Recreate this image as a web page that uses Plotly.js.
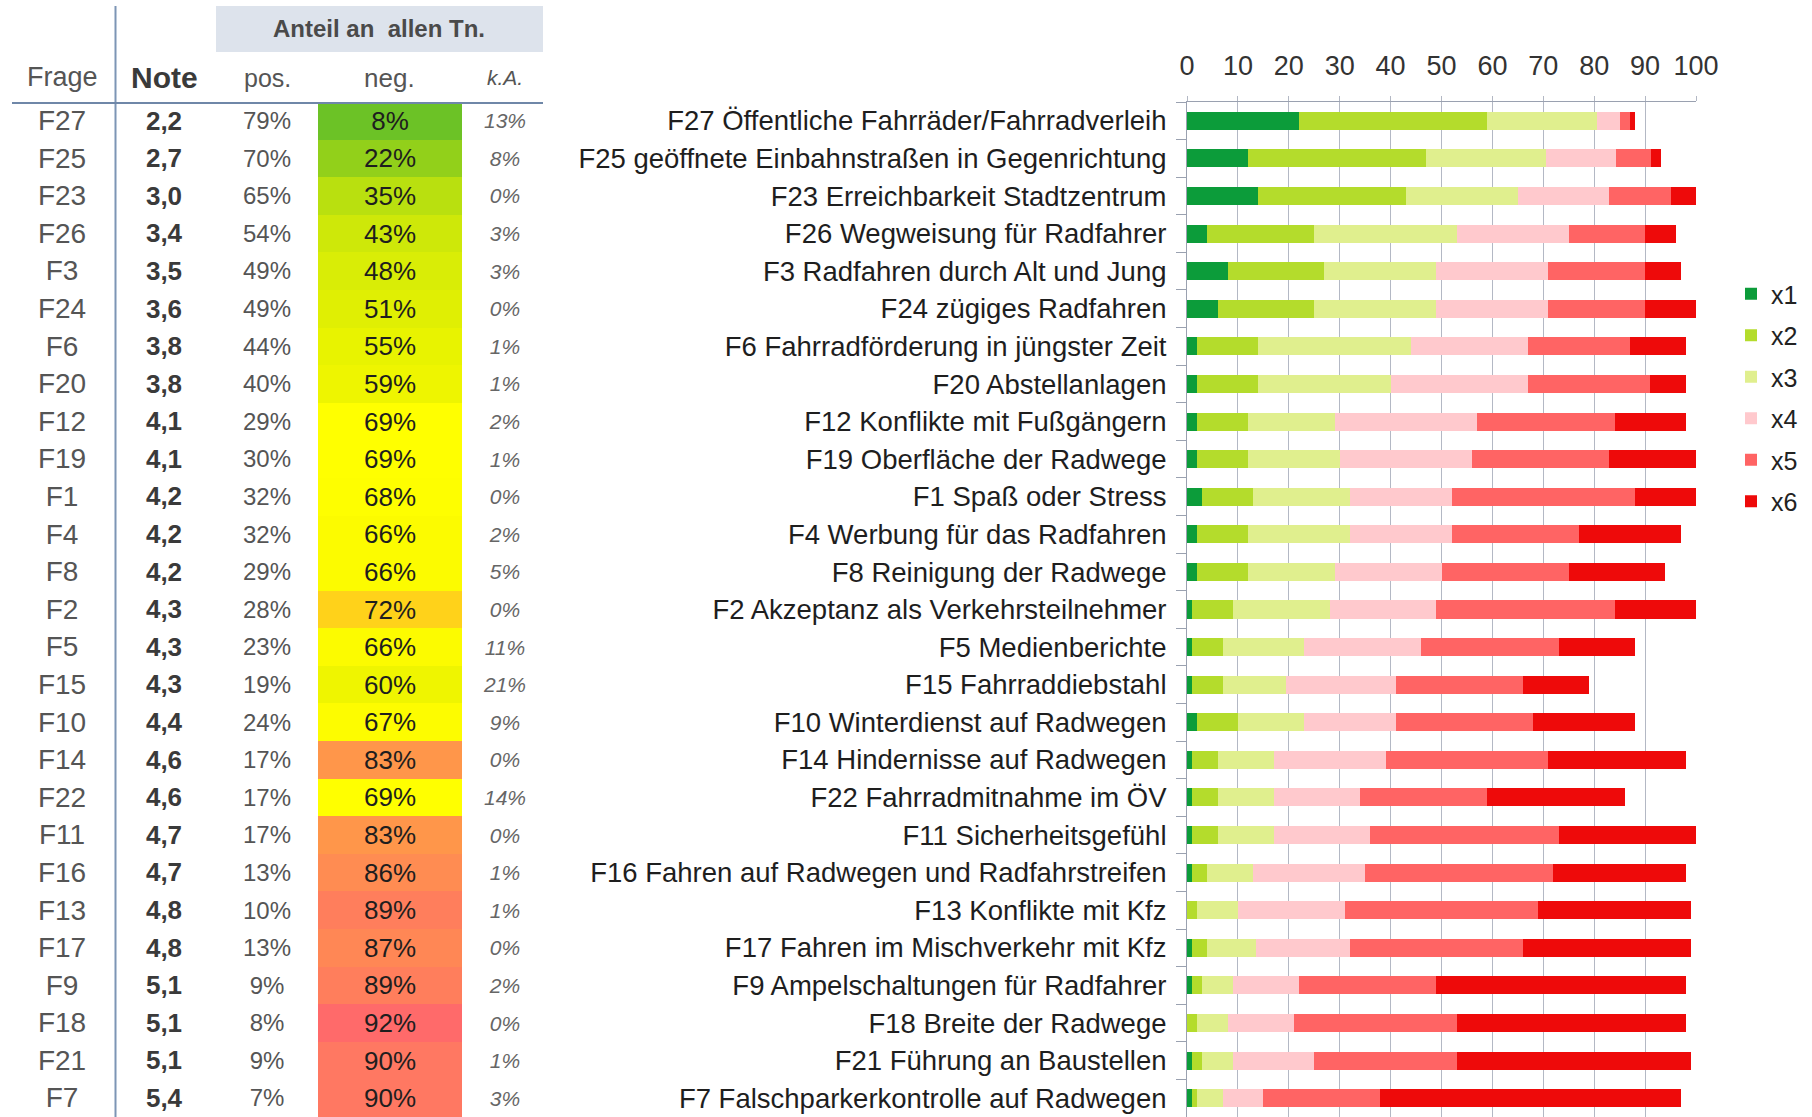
<!DOCTYPE html>
<html>
<head>
<meta charset="utf-8">
<script src="https://cdn.plot.ly/plotly-3.0.1.min.js"></script>
<style>html,body{margin:0;padding:0;background:#fff;}#chart{width:1812px;height:1117px;}</style>
</head>
<body>
<div id="chart"></div>
<script>
// ---- data ----
const codes = ['F27','F25','F23','F26','F3','F24','F6','F20','F12','F19','F1','F4','F8','F2','F5','F15','F10','F14','F22','F11','F16','F13','F17','F9','F18','F21','F7'];
const names = ['Öffentliche Fahrräder/Fahrradverleih','geöffnete Einbahnstraßen in Gegenrichtung','Erreichbarkeit Stadtzentrum','Wegweisung für Radfahrer','Radfahren durch Alt und Jung','zügiges Radfahren','Fahrradförderung in jüngster Zeit','Abstellanlagen','Konflikte mit Fußgängern','Oberfläche der Radwege','Spaß oder Stress','Werbung für das Radfahren','Reinigung der Radwege','Akzeptanz als Verkehrsteilnehmer','Medienberichte','Fahrraddiebstahl','Winterdienst auf Radwegen','Hindernisse auf Radwegen','Fahrradmitnahme im ÖV','Sicherheitsgefühl','Fahren auf Radwegen und Radfahrstreifen','Konflikte mit Kfz','Fahren im Mischverkehr mit Kfz','Ampelschaltungen für Radfahrer','Breite der Radwege','Führung an Baustellen','Falschparkerkontrolle auf Radwegen'];
const note = [2.2,2.7,3.0,3.4,3.5,3.6,3.8,3.8,4.1,4.1,4.2,4.2,4.2,4.3,4.3,4.3,4.4,4.6,4.6,4.7,4.7,4.8,4.8,5.1,5.1,5.1,5.4];
const pos = [79,70,65,54,49,49,44,40,29,30,32,32,29,28,23,19,24,17,17,17,13,10,13,9,8,9,7];
const neg = [8,22,35,43,48,51,55,59,69,69,68,66,66,72,66,60,67,83,69,83,86,89,87,89,92,90,90];
const ka = [13,8,0,3,3,0,1,1,2,1,0,2,5,0,11,21,9,0,14,0,1,1,0,2,0,1,3];

const seriesNames = ['x1','x2','x3','x4','x5','x6'];
const x1 = [22,12,14,4,8,6,2,2,2,2,3,2,2,1,1,1,2,1,1,1,1,0,1,1,0,1,1];
const x2 = [37,35,29,21,19,19,12,12,10,10,10,10,10,8,6,6,8,5,5,5,3,2,3,2,2,2,1];
const x3 = [21.5,23.5,22,28,22,24,30,26,17,18,19,20,17,19,16,12.5,13,11,11,11,9,8,9.5,6,6,6,5];
const x4 = [4.5,13.7,18,22,22,22,23,27,28,26,20,20,21,21,23,21.5,18,22,17,19,22,21,18.5,13,13,16,8];
const x5 = [2,7,12,15,19,19,20,24,27,27,36,25,25,35,27,25,27,32,25,37,37,38,34,27,32,28,23];
const x6 = [1,2,5,6,7,10,11,7,14,17,12,20,19,16,15,13,20,27,27,27,26,30,33,49,45,46,59];
const xTicks = [0,10,20,30,40,50,60,70,80,90,100];

// ---- styling ----
const FONT = '"Liberation Sans", Arial, sans-serif';
const seriesColors = ['#0c9c3a','#b4dc2c','#e0ef8e','#ffc9cd','#ff6464','#ee0a0a'];
const W = 1812, H = 1117;
const px = v => v / W;              // horizontal pixel -> paper
const py = v => 1 - v / H;          // vertical pixel -> paper
const COL = {frage: 62, note: 164, pos: 267, neg: 389, ka: 505};
const yDomain = [0, py(102)];
const textShift = 0.06;             // nudge table text slightly downward

const labels = codes.map((c, i) => c + ' ' + names[i]);
const series = [x1, x2, x3, x4, x5, x6];

const traces = series.map((vals, k) => ({
  type: 'bar', orientation: 'h', name: seriesNames[k],
  x: vals, y: labels, xaxis: 'x', yaxis: 'y',
  marker: {color: seriesColors[k], line: {width: 0}},
  legendgroup: seriesNames[k], hoverinfo: 'x+name'
}));

// neg column heat cells
traces.push({
  type: 'heatmap', x: ['neg.'], y: codes, z: neg.map(v => [v]),
  xaxis: 'x3', yaxis: 'y2', zmin: 0, zmax: 100, showscale: false,
  colorscale: [[0,'#4fb82c'],[0.08,'#6cc226'],[0.22,'#92d01a'],[0.35,'#b9e00f'],[0.45,'#d3ea08'],[0.55,'#e8f300'],[0.6,'#eff500'],[0.66,'#fcfb00'],[0.69,'#ffff00'],[0.72,'#ffd21a'],[0.8,'#ffa040'],[0.83,'#ff964a'],[0.86,'#ff8c52'],[0.89,'#ff7e5c'],[0.9,'#ff7862'],[0.92,'#ff6a6a'],[1,'#ff5555']],
  texttemplate: '%{z}%', textfont: {family: FONT, size: 26, color: '#1e1e1e'},
  xgap: 0, ygap: 0, hoverinfo: 'skip'
});

function textCol(xpos, txt, size, color) {
  return {
    type: 'scatter', mode: 'text', x: codes.map(() => xpos), y: codes,
    text: txt, textposition: 'middle center', xaxis: 'x2', yaxis: 'y3',
    textfont: {family: FONT, size: size, color: color},
    showlegend: false, hoverinfo: 'skip', cliponaxis: false
  };
}
traces.push(textCol(COL.frage, codes, 28, '#555555'));
traces.push(textCol(COL.note, note.map(v => '<b>' + v.toFixed(1).replace('.', ',') + '</b>'), 26, '#3a3a3a'));
traces.push(textCol(COL.pos, pos.map(v => v + '%'), 24, '#555555'));
traces.push(textCol(COL.ka, ka.map(v => '<i>' + v + '%</i>'), 21, '#666666'));

function hdr(text, x, y, size, color) {
  return {text: text, xref: 'paper', yref: 'paper', x: px(x), y: py(y), xanchor: 'center', yanchor: 'middle',
          showarrow: false, font: {family: FONT, size: size, color: color}};
}

const gridCol = '#b3b8c4';
const layout = {
  width: W, height: H, margin: {l: 0, r: 0, t: 0, b: 0},
  paper_bgcolor: '#ffffff', plot_bgcolor: 'rgba(0,0,0,0)',
  font: {family: FONT, size: 26, color: '#222'},
  barmode: 'stack', bargap: 0.52, showlegend: true,
  xaxis: {
    domain: [px(1187), px(1696)], range: [0, 100], side: 'top', anchor: 'y',
    tickvals: xTicks, ticktext: xTicks.map(String), showgrid: true, gridcolor: gridCol, gridwidth: 1,
    showline: true, linecolor: '#9aa1b0', linewidth: 1, ticks: 'outside', ticklen: 5, tickcolor: gridCol,
    zeroline: false, tickfont: {family: FONT, size: 27, color: '#333'}, ticklabelstandoff: 10, fixedrange: true
  },
  yaxis: {
    domain: yDomain, type: 'category', categoryorder: 'array', categoryarray: labels,
    range: [26.5, -0.5], anchor: 'x', showline: true, linecolor: '#9aa1b0', linewidth: 1,
    ticks: 'outside', tickson: 'boundaries', ticklen: 10, tickcolor: '#9aa1b0',
    showgrid: false, zeroline: false, tickfont: {family: FONT, size: 27.5, color: '#1e1e1e'},
    ticklabelstandoff: 14, fixedrange: true
  },
  xaxis2: {domain: [0, px(543)], range: [0, 543], anchor: 'y2', visible: false, fixedrange: true},
  xaxis3: {domain: [px(318), px(462)], anchor: 'y2', visible: false, type: 'category', fixedrange: true},
  yaxis2: {
    domain: yDomain, type: 'category', categoryorder: 'array', categoryarray: codes,
    range: [26.5, -0.5], anchor: 'x2', visible: false, fixedrange: true
  },
  yaxis3: {
    domain: yDomain, type: 'category', categoryorder: 'array', categoryarray: codes,
    range: [26.5 - textShift, -0.5 - textShift], anchor: 'x2', visible: false, fixedrange: true
  },
  legend: {
    x: px(1731), y: py(271), xanchor: 'left', yanchor: 'top',
    traceorder: 'grouped', tracegroupgap: 6, font: {family: FONT, size: 25, color: '#222'},
    bgcolor: 'rgba(0,0,0,0)', itemwidth: 30
  },
  shapes: [
    {type: 'rect', xref: 'paper', yref: 'paper', x0: px(216), x1: px(543), y0: py(52), y1: py(6),
     fillcolor: '#dde3ec', line: {width: 0}, layer: 'below'},
    {type: 'line', xref: 'paper', yref: 'paper', x0: px(115.5), x1: px(115.5), y0: 0, y1: py(6),
     line: {color: '#7d95b5', width: 2}},
    {type: 'line', xref: 'paper', yref: 'paper', x0: px(12), x1: px(543), y0: py(103), y1: py(103),
     line: {color: '#6f87a8', width: 2}}
  ],
  annotations: [
    hdr('<b>Anteil an  allen Tn.</b>', 379, 28, 24, '#4a4a4a'),
    hdr('Frage', COL.frage, 77, 27, '#555'),
    hdr('<b>Note</b>', COL.note, 77, 30, '#3a3a3a'),
    hdr('pos.', COL.pos, 78, 25, '#555'),
    hdr('neg.', COL.neg, 78, 26, '#555'),
    hdr('<i>k.A.</i>', COL.ka, 77, 21, '#555')
  ]
};

Plotly.newPlot('chart', traces, layout, {displayModeBar: false, staticPlot: true});
</script>
</body>
</html>
